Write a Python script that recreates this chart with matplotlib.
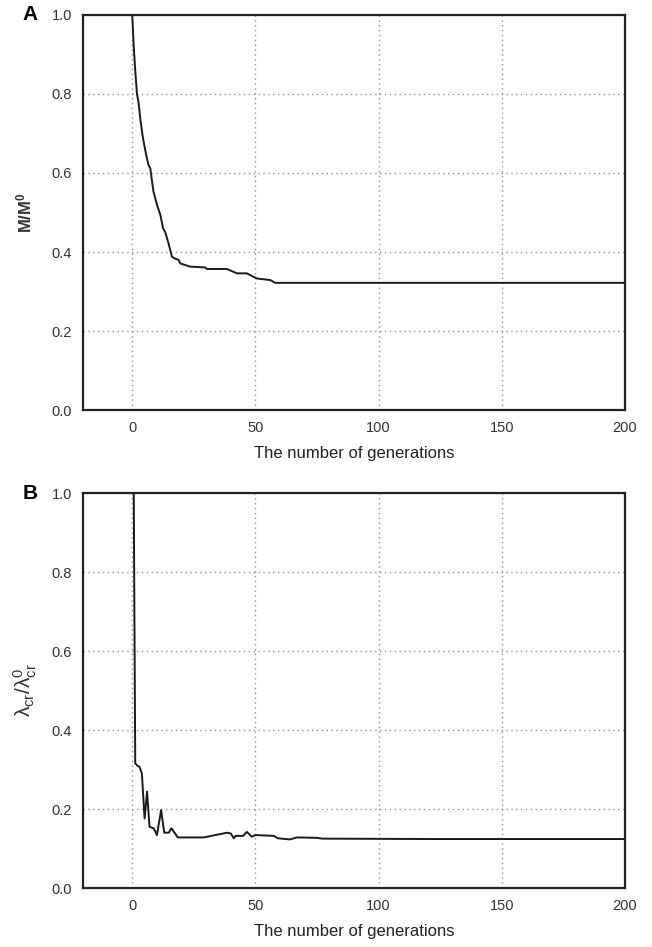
import numpy as np
import matplotlib.pyplot as plt

plt.rcParams['font.family'] = ['Liberation Sans', 'DejaVu Sans']
plt.rcParams['mathtext.default'] = 'regular'

# panel A: M/M0 against generations
gen_a = [0, 0.5, 1.2, 1.9, 2.5, 3.4, 4.3, 5.5, 6.6, 7.3, 8.6, 10.0, 11.4, 12.5, 13.4,
         14.8, 16.1, 17.5, 18.8, 19.5, 23.5, 29.6, 30.3, 38.4, 42.5, 46.5, 50.6, 56.0,
         58.0, 80, 120, 160, 200]
mass = [1.0, 0.93, 0.86, 0.80, 0.78, 0.73, 0.69, 0.65, 0.62, 0.612, 0.553, 0.52, 0.494,
        0.46, 0.45, 0.42, 0.388, 0.383, 0.38, 0.371, 0.363, 0.361, 0.357, 0.357, 0.346,
        0.346, 0.333, 0.329, 0.322, 0.322, 0.322, 0.322, 0.322]

# panel B: lambda_cr / lambda_cr0 against generations
gen_b = [0, 0.6, 1.2, 2.0, 2.9, 3.9, 5.0, 6.0, 7.0, 8.7, 10.0, 11.7, 13.0, 14.8, 15.9,
         18.5, 29.0, 33.7, 38.5, 40.0, 41.2, 42.0, 45.0, 46.5, 48.5, 50.0, 57.5, 59.0,
         64.0, 66.7, 75.0, 77.0, 120, 160, 200]
lam = [1.0, 1.0, 0.316, 0.31, 0.307, 0.29, 0.176, 0.244, 0.155, 0.151, 0.134, 0.197,
       0.14, 0.14, 0.151, 0.128, 0.128, 0.134, 0.14, 0.138, 0.126, 0.132, 0.132, 0.142,
       0.13, 0.134, 0.132, 0.126, 0.123, 0.128, 0.127, 0.125, 0.124, 0.124, 0.124]

fig = plt.figure(figsize=(6.52, 9.47), dpi=100)
ax_a = fig.add_axes([0.1273, 0.567, 0.8313, 0.4172])
ax_b = fig.add_axes([0.1273, 0.0623, 0.8313, 0.4171])

panels = [(ax_a, gen_a, mass, r'M/M$^0$', 'A', 'bold', 12, 12),
          (ax_b, gen_b, lam, r'$\lambda_{cr}/\lambda_{cr}^{0}$', 'B', 'normal', 9, 15)]
for ax, x, y, ylab, letter, weight, pad, size in panels:
    ax.plot(x, y, color='#1a1a1a', lw=1.4)
    ax.set_xlim(-20, 200)
    ax.set_ylim(0, 1)
    ax.set_xticks([0, 50, 100, 150, 200])
    ax.set_yticks([0.0, 0.2, 0.4, 0.6, 0.8, 1.0])
    ax.set_yticklabels(['0.0', '0.2', '0.4', '0.6', '0.8', '1.0'])
    ax.grid(True, color='#8a8ad0', linestyle=(0, (1, 2.5)), lw=1.0)
    ax.tick_params(length=0, labelsize=10.5, labelcolor='#333333', pad=8)
    for s in ax.spines.values():
        s.set_linewidth(1.6)
        s.set_color('#222222')
    ax.set_xlabel('The number of generations', fontsize=12, labelpad=8, color='#222222')
    ax.set_ylabel(ylab, fontsize=size, fontweight=weight, labelpad=pad, color='#333333')
    ax.text(-0.083, 1.0, letter, transform=ax.transAxes, fontsize=15, fontweight='bold',
            ha='right', va='center')

fig.savefig('out.png', dpi=100)
